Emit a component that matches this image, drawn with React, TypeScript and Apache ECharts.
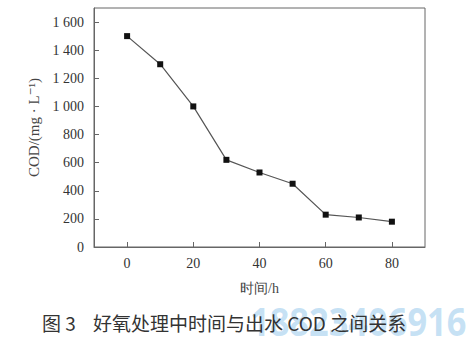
import React, { useEffect, useRef } from "react";
import * as echarts from "echarts";

const hours = [0, 10, 20, 30, 40, 50, 60, 70, 80];
const cod = [1500, 1300, 1000, 620, 530, 450, 230, 210, 180];
const xTicks = [0, 20, 40, 60, 80];
const yTicks = [0, 200, 400, 600, 800, 1000, 1200, 1400, 1600];
const figureNo = "图 3";
const caption = "好氧处理中时间与出水 COD 之间关系";
const watermark = "18823406916";

const fmt = (v: number) => {
  const s = String(v);
  return s.length > 3 ? s.slice(0, s.length - 3) + " " + s.slice(-3) : s;
};

export default function App() {
  const ref = useRef<HTMLDivElement>(null);
  useEffect(() => {
    const chart = echarts.init(ref.current!, null, { renderer: "svg" });
    const serif = "'Liberation Serif', 'DejaVu Serif', serif";
    const cjk = "'Noto Sans CJK SC', sans-serif";
    chart.setOption({
      animation: false,
      backgroundColor: "#fff",
      grid: {
        left: 94,
        top: 8,
        right: 47,
        bottom: 95,
        show: true,
        borderColor: "#666",
        borderWidth: 1,
      },
      xAxis: {
        type: "value",
        min: -10,
        max: 90,
        name: "时间/h",
        nameLocation: "middle",
        nameGap: 34,
        nameTextStyle: { fontFamily: serif, fontSize: 14, color: "#444" },
        axisLine: { onZero: false, lineStyle: { color: "#666" } },
        axisTick: { inside: true, length: 5, customValues: xTicks, lineStyle: { color: "#666" } },
        axisLabel: { customValues: xTicks, fontFamily: serif, fontSize: 14, color: "#333", margin: 9 },
        splitLine: { show: false },
      },
      yAxis: {
        type: "value",
        min: 0,
        max: 1700,
        name: "COD/(mg · L⁻¹)",
        nameLocation: "middle",
        nameGap: 52,
        nameTextStyle: { fontFamily: serif, fontSize: 15, color: "#444" },
        axisLine: { show: true, onZero: false, lineStyle: { color: "#666" } },
        axisTick: { show: true, inside: true, length: 5, customValues: yTicks, lineStyle: { color: "#666" } },
        axisLabel: {
          customValues: yTicks,
          formatter: (v: number) => fmt(v),
          fontFamily: serif,
          fontSize: 14,
          color: "#333",
          margin: 10,
        },
        splitLine: { show: false },
      },
      series: [
        {
          type: "line",
          data: hours.map((h, i) => [h, cod[i]]),
          symbol: "rect",
          symbolSize: 6,
          itemStyle: { color: "#111" },
          lineStyle: { color: "#555", width: 1.2 },
        },
      ],
      graphic: [
        {
          type: "text",
          x: 250,
          y: 300,
          scaleX: 0.86,
          z: 1,
          style: {
            text: watermark,
            fontSize: 40,
            fontWeight: "bold",
            fontFamily: "'Noto Sans', sans-serif",
            fill: "rgba(160, 205, 238, 0.6)",
          },
        },
        {
          type: "text",
          left: 42,
          top: 313,
          z: 2,
          style: { text: figureNo, fontSize: 19, fontFamily: cjk, fill: "#333" },
        },
        {
          type: "text",
          left: 93,
          top: 313,
          z: 2,
          style: { text: caption, fontSize: 19, fontFamily: cjk, fill: "#333" },
        },
      ],
    });
    return () => chart.dispose();
  }, []);
  return <div ref={ref} style={{ width: 472, height: 342, position: "absolute", left: 0, top: 0 }} />;
}
